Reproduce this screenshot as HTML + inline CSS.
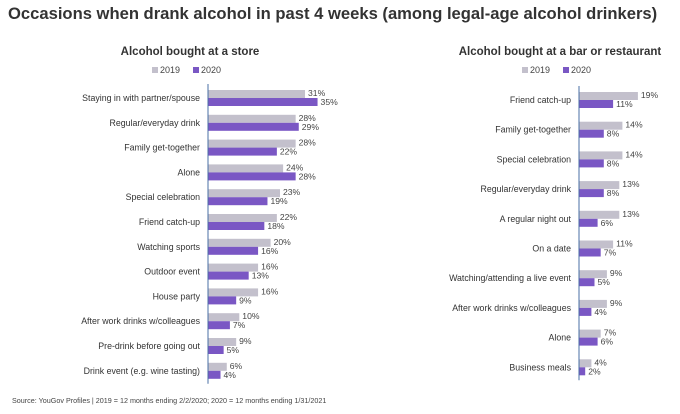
<!DOCTYPE html>
<html><head><meta charset="utf-8"><style>
body{margin:0;background:#fff;font-family:"Liberation Sans",sans-serif}
svg text{font-family:"Liberation Sans",sans-serif}
</style></head><body>
<svg id="c" width="680" height="409" xmlns="http://www.w3.org/2000/svg">
<text x="8" y="19" font-size="16.6" font-weight="bold" fill="#333">Occasions when drank alcohol in past 4 weeks (among legal-age alcohol drinkers)</text>
<text x="12" y="403" font-size="7.2" fill="#444">Source: YouGov Profiles | 2019 = 12 months ending 2/2/2020; 2020 = 12 months ending 1/31/2021</text>
</svg>
<script>
const leftCats=["Staying in with partner/spouse","Regular/everyday drink","Family get-together","Alone","Special celebration","Friend catch-up","Watching sports","Outdoor event","House party","After work drinks w/colleagues","Pre-drink before going out","Drink event (e.g. wine tasting)"];
const left2019=[31,28,28,24,23,22,20,16,16,10,9,6];
const left2020=[35,29,22,28,19,18,16,13,9,7,5,4];
const rightCats=["Friend catch-up","Family get-together","Special celebration","Regular/everyday drink","A regular night out","On a date","Watching/attending a live event","After work drinks w/colleagues","Alone","Business meals"];
const right2019=[19,14,14,13,13,11,9,9,7,4];
const right2020=[11,8,8,8,6,7,5,4,6,2];
const svg=document.getElementById('c');
const NS="http://www.w3.org/2000/svg";
function mk(t,a,txt){const e=document.createElementNS(NS,t);for(const k in a)e.setAttribute(k,a[k]);if(txt!==undefined)e.textContent=txt;svg.appendChild(e);return e;}
function panel(p){
  const x=v=>p.ax+v*p.scale;
  const t=mk('text',{x:p.tx,y:55,'font-size':11.5,'font-weight':'bold','text-anchor':'middle',fill:'#333'},p.title);
  
  
  const l1=mk('rect',{x:p.tx-38,y:67,width:6,height:6,fill:'#c3c0cc'});
  
  
  const lt1=mk('text',{x:p.tx-30,y:73,'font-size':9,fill:'#444'},'2019');
  
  
  const l2=mk('rect',{x:p.tx+3,y:67,width:6,height:6,fill:'#7a57c4'});
  
  
  const lt2=mk('text',{x:p.tx+11,y:73,'font-size':9,fill:'#444'},'2020');
  
  
  p.cats.forEach((c,i)=>{
    const y=p.y0+i*p.step;
    const lab=mk('text',{x:p.ax-8,y:y+11,'font-size':8.8,'text-anchor':'end',fill:'#333'},c);
    
    
    const b1=mk('rect',{x:p.ax,y:y,width:x(p.a[i])-p.ax,height:8,fill:'#c3c0cc'});
    
    
    const b2=mk('rect',{x:p.ax,y:y+8,width:x(p.b[i])-p.ax,height:8,fill:'#7a57c4'});
    
    
    const v1=mk('text',{x:x(p.a[i])+3,y:y+6,'font-size':8.6,fill:'#444'},p.a[i]+'%');
    
    
    const v2=mk('text',{x:x(p.b[i])+3,y:y+15,'font-size':8.6,fill:'#444'},p.b[i]+'%');
    
    
  });
  const ax=mk('line',{x1:p.ax,x2:p.ax,y1:p.y0-6,y2:p.y0+(p.cats.length-1)*p.step+21,stroke:'#4a6fa5','stroke-width':1});
  
  
}
panel({id:'store',title:'Alcohol bought at a store',tx:190,ax:208,scale:3.13,y0:90,step:24.8,cats:leftCats,a:left2019,b:left2020});
panel({id:'bar',title:'Alcohol bought at a bar or restaurant',tx:560,ax:579,scale:3.1,y0:92,step:29.7,cats:rightCats,a:right2019,b:right2020});
</script>
</body></html>
